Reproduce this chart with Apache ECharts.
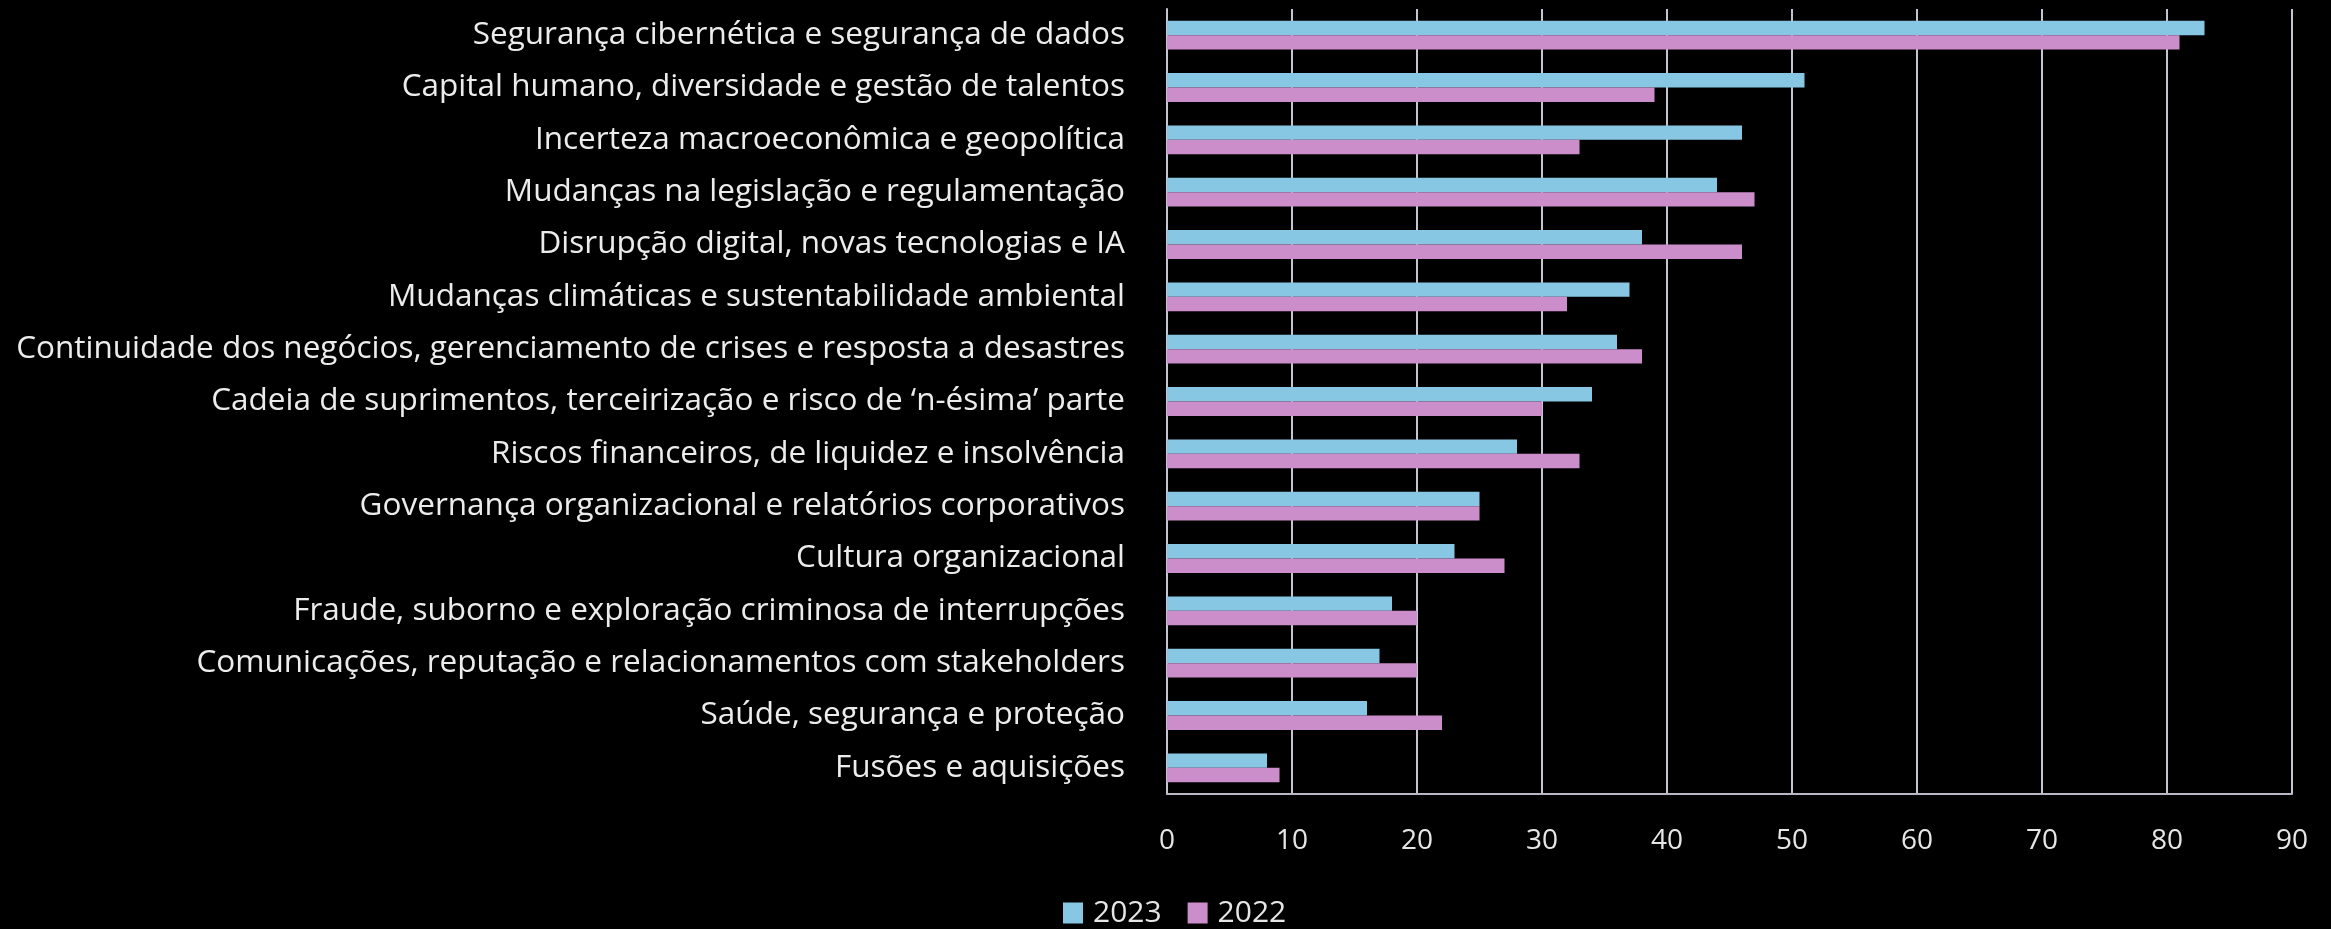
<!DOCTYPE html>
<html>
<head>
<meta charset="utf-8">
<script src="https://cdn.jsdelivr.net/npm/echarts@6/dist/echarts.min.js"></script>
<style>
html,body{margin:0;padding:0;background:#000;}
#chart{width:2331px;height:929px;}
</style>
</head>
<body>
<div id="chart"></div>
<script>
const categories = [
  "Segurança cibernética e segurança de dados",
  "Capital humano, diversidade e gestão de talentos",
  "Incerteza macroeconômica e geopolítica",
  "Mudanças na legislação e regulamentação",
  "Disrupção digital, novas tecnologias e IA",
  "Mudanças climáticas e sustentabilidade ambiental",
  "Continuidade dos negócios, gerenciamento de crises e resposta a desastres",
  "Cadeia de suprimentos, terceirização e risco de ‘n-ésima’ parte",
  "Riscos financeiros, de liquidez e insolvência",
  "Governança organizacional e relatórios corporativos",
  "Cultura organizacional",
  "Fraude, suborno e exploração criminosa de interrupções",
  "Comunicações, reputação e relacionamentos com stakeholders",
  "Saúde, segurança e proteção",
  "Fusões e aquisições"
];
const values2023 = [83, 51, 46, 44, 38, 37, 36, 34, 28, 25, 23, 18, 17, 16, 8];
const values2022 = [81, 39, 33, 47, 46, 32, 38, 30, 33, 25, 27, 20, 20, 22, 9];
const seriesNames = ["2023", "2022"];
const xTicks = [0, 10, 20, 30, 40, 50, 60, 70, 80, 90];

const FONT = "'Open Sans', 'Noto Sans', sans-serif";
const chart = echarts.init(document.getElementById('chart'), null, {renderer: 'canvas'});
chart.setOption({
  backgroundColor: '#000000',
  animation: false,
  textStyle: {fontFamily: FONT},
  grid: {left: 1167, right: 39, top: 9, bottom: 135, containLabel: false},
  legend: {
    data: seriesNames,
    left: 1058,
    top: 893,
    itemWidth: 20,
    itemHeight: 21,
    itemGap: 26,
    textStyle: {color: '#e6e6e6', fontSize: 30, fontFamily: FONT, padding: [0, 0, 0, 5]},
    icon: 'rect'
  },
  xAxis: {
    type: 'value',
    min: xTicks[0],
    max: xTicks[xTicks.length - 1],
    interval: 10,
    axisLine: {show: true, lineStyle: {color: '#b8b8c4', width: 2}},
    axisTick: {show: false},
    axisLabel: {color: '#e6e6e6', fontSize: 28, margin: 33, fontFamily: FONT},
    splitLine: {show: true, lineStyle: {color: '#c4c4d2', width: 2}}
  },
  yAxis: {
    type: 'category',
    data: categories,
    inverse: true,
    axisLine: {show: true, lineStyle: {color: '#c4c4d2', width: 2}},
    axisTick: {show: false},
    axisLabel: {color: '#ececec', fontSize: 31.5, margin: 42, fontFamily: FONT}
  },
  series: [
    {
      name: seriesNames[0],
      type: 'bar',
      data: values2023,
      barGap: '0%',
      barCategoryGap: '45%',
      itemStyle: {color: '#88c7e3'}
    },
    {
      name: seriesNames[1],
      type: 'bar',
      data: values2022,
      barGap: '0%',
      barCategoryGap: '45%',
      itemStyle: {color: '#cc8dcb'}
    }
  ]
});
</script>
</body>
</html>
